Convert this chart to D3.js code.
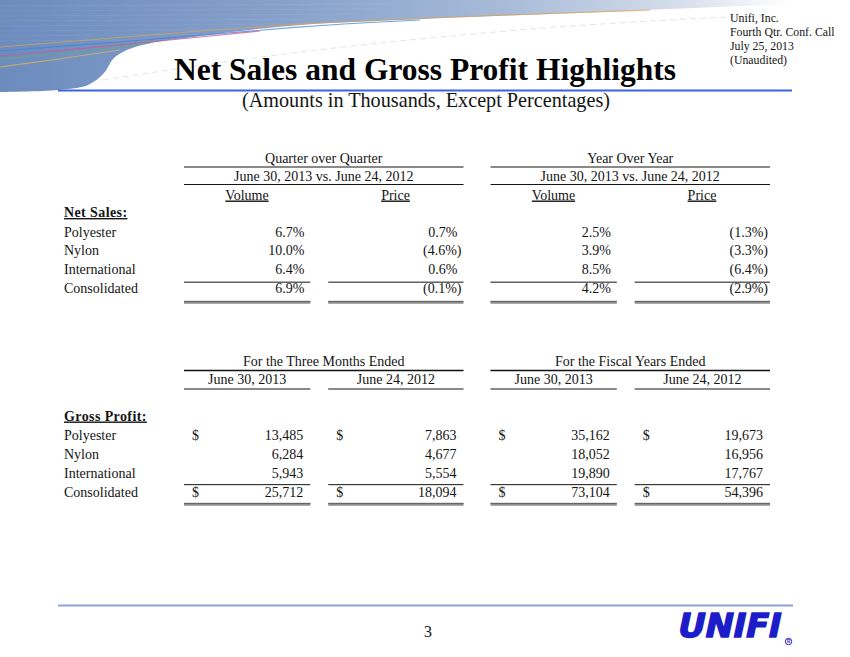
<!DOCTYPE html>
<html>
<head>
<meta charset="utf-8">
<script src="https://cdn.jsdelivr.net/npm/d3@7"></script>
<style>
  body { margin: 0; background: #fff; }
  svg text { font-family: "Liberation Serif", "Times New Roman", serif; fill: #141414; }
</style>
</head>
<body>
<div id="chart"></div>
<script>
// ---- data ----
const segments = ['Polyester', 'Nylon', 'International', 'Consolidated'];
const headerNotes = ['Unifi, Inc.', 'Fourth Qtr. Conf. Call', 'July 25, 2013', '(Unaudited)'];

const salesGroups = ['Quarter over Quarter', 'Year Over Year'];
const salesPeriod = 'June 30, 2013 vs. June 24, 2012';
const salesMeasures = ['Volume', 'Price'];
const qoqVolume = [6.7, 10.0, 6.4, 6.9];
const qoqPrice = [0.7, -4.6, 0.6, -0.1];
const yoyVolume = [2.5, 3.9, 8.5, 4.2];
const yoyPrice = [-1.3, -3.3, -6.4, -2.9];

const profitGroups = ['For the Three Months Ended', 'For the Fiscal Years Ended'];
const profitPeriods = ['June 30, 2013', 'June 24, 2012'];
const profitQ2013 = [13485, 6284, 5943, 25712];
const profitQ2012 = [7863, 4677, 5554, 18094];
const profitFY2013 = [35162, 18052, 19890, 73104];
const profitFY2012 = [19673, 16956, 17767, 54396];

const width = 850, height = 657;

const svg = d3.select('#chart').append('svg')
  .attr('width', width)
  .attr('height', height)
  .attr('viewBox', `0 0 ${width} ${height}`);

// ---- header swoosh ----
const defs = svg.append('defs');
const grad = defs.append('linearGradient').attr('id', 'band').attr('x1', 0).attr('x2', 1).attr('y1', 0).attr('y2', 0);
[[0, '#6c8cbe'], [0.35, '#86a0ca'], [0.65, '#a9bcd9'], [0.85, '#d3dcea'], [1, '#ffffff']]
  .forEach(([o, c]) => grad.append('stop').attr('offset', o).attr('stop-color', c));

const curve = d3.line().curve(d3.curveCatmullRom.alpha(0.5));
const edge = [[790, 4], [600, 12], [400, 20], [300, 25], [200, 36], [135, 47], [114, 58], [104, 73], [88, 85], [58, 90], [0, 92]];
svg.append('path')
  .attr('d', 'M0,0 L790,0 ' + curve(edge).replace(/^M/, 'L') + ' Z')
  .attr('fill', 'url(#band)');

// faint texture lines
d3.range(6, 44, 5).forEach(y => {
  svg.append('line').attr('x1', 0).attr('x2', 420 - y * 4).attr('y1', y).attr('y2', y - 2)
    .attr('stroke', '#fff').attr('stroke-opacity', 0.08).attr('stroke-width', 0.8);
});

const swooshLines = [
  { c: '#d7a15a', p: [[0, 47], [150, 35], [300, 23], [500, 15], [650, 10]] },
  { c: '#3f86d8', p: [[0, 51], [150, 40], [300, 26], [420, 20]] },
  { c: '#d0578a', p: [[0, 56], [100, 47], [180, 39], [260, 31]] },
  { c: '#63a78b', p: [[0, 59], [90, 51], [150, 43]] },
  { c: '#d9b45a', p: [[0, 67], [60, 59], [120, 50]] }
];
swooshLines.forEach(s => {
  svg.append('path').attr('d', d3.line().curve(d3.curveBasis)(s.p))
    .attr('fill', 'none').attr('stroke', s.c).attr('stroke-width', 1.1).attr('stroke-opacity', 0.75);
});

svg.append('path')
  .attr('d', d3.line().curve(d3.curveBasis)([[103, 80], [300, 50], [560, 25], [770, 15]]))
  .attr('fill', 'none').attr('stroke', '#e2e5eb').attr('stroke-width', 1).attr('stroke-dasharray', '6,4');

// ---- titles ----
svg.append('text').attr('x', 425).attr('y', 80).attr('text-anchor', 'middle')
  .style('font-size', '31.5px').style('font-weight', 'bold').style('fill', '#000')
  .text('Net Sales and Gross Profit Highlights');

svg.append('line').attr('x1', 58).attr('x2', 792).attr('y1', 90.5).attr('y2', 90.5)
  .attr('stroke', '#3a63e0').attr('stroke-width', 2.2);

svg.append('text').attr('x', 426).attr('y', 107).attr('text-anchor', 'middle')
  .style('font-size', '20.2px')
  .text('(Amounts in Thousands, Except Percentages)');

svg.append('g').selectAll('text').data(headerNotes).join('text')
  .attr('x', 730).attr('y', (d, i) => 21.5 + i * 14.2)
  .style('font-size', '11.8px')
  .text(d => d);

// ---- column scales ----
const groupX = d3.scaleBand().domain([0, 1]).range([184, 770]).paddingInner(0.088);
// the left column of each pair is a little narrower than the right one
const split = d3.scaleLinear().domain([0, 1]).range([0, groupX.bandwidth()]);
const colSpans = [[0, 0.452], [0.516, 1]];
const cols = [0, 1, 2, 3].map(k => {
  const g = Math.floor(k / 2), c = k % 2;
  return { x0: groupX(g) + split(colSpans[c][0]), x1: groupX(g) + split(colSpans[c][1]), c };
});

const ink = '#141414';
const fmtPct = v => v < 0 ? `(${d3.format('.1f')(-v)}%)` : `${d3.format('.1f')(v)}%`;
const fmtNum = d3.format(',');

function hline(g, x1, x2, y, w, c) {
  g.append('line').attr('x1', x1).attr('x2', x2).attr('y1', y).attr('y2', y)
    .attr('stroke', c || ink).attr('stroke-width', w || 1);
}
function doubleLine(g, x1, x2, y) {
  hline(g, x1, x2, y + 0.8, 3, '#8e8e8e');
  hline(g, x1, x2, y, 1, '#666');
}
function rowLabels(g, y, title) {
  g.append('text').attr('x', 64).attr('y', y.range()[0] - 19.5)
    .style('font-size', '14px').style('font-weight', 'bold').style('letter-spacing', '0.4px')
    .style('text-decoration', 'underline')
    .text(title);
  g.selectAll('.row-label').data(segments).join('text')
    .attr('class', 'row-label')
    .attr('x', 64).attr('y', d => y(d))
    .style('font-size', '14px')
    .text(d => d);
}

// ---- Net Sales table ----
const sales = svg.append('g');
const salesY = d3.scalePoint().domain(segments).range([236.5, 293]);

salesGroups.forEach((name, g) => {
  const cx = groupX(g) + groupX.bandwidth() / 2;
  sales.append('text').attr('x', cx).attr('y', 162.5).attr('text-anchor', 'middle').style('font-size', '14px').text(name);
  hline(sales, groupX(g), groupX(g) + groupX.bandwidth(), 167, 1.1);
  sales.append('text').attr('x', cx).attr('y', 180.5).attr('text-anchor', 'middle').style('font-size', '14px').text(salesPeriod);
  hline(sales, groupX(g), groupX(g) + groupX.bandwidth(), 184.5, 1.1);
});

const salesCols = [qoqVolume, qoqPrice, yoyVolume, yoyPrice];
salesCols.forEach((vals, k) => {
  const col = cols[k];
  const cx = col.c === 1 ? col.x1 - 68 : col.x0 + 63;
  sales.append('text').attr('x', cx).attr('y', 199.5).attr('text-anchor', 'middle')
    .style('font-size', '14px').style('text-decoration', 'underline')
    .text(salesMeasures[col.c]);

  sales.append('g').selectAll('text').data(vals).join('text')
    .attr('x', d => col.x1 - (d < 0 ? 2 : 6))
    .attr('y', (d, i) => salesY(segments[i]))
    .attr('text-anchor', 'end')
    .style('font-size', '14px')
    .text(fmtPct);

  hline(sales, col.x0, col.x1, salesY('International') + 8, 1);
  doubleLine(sales, col.x0, col.x1, salesY('Consolidated') + 8.5);
});
rowLabels(sales, salesY, 'Net Sales:');

// ---- Gross Profit table ----
const profit = svg.append('g');
const profitY = d3.scalePoint().domain(segments).range([440, 496.5]);

profitGroups.forEach((name, g) => {
  const cx = groupX(g) + groupX.bandwidth() / 2;
  profit.append('text').attr('x', cx).attr('y', 365.5).attr('text-anchor', 'middle').style('font-size', '14px').text(name);
  hline(profit, groupX(g), groupX(g) + groupX.bandwidth(), 370.5, 1.6, '#111');
});

const profitCols = [profitQ2013, profitQ2012, profitFY2013, profitFY2012];
profitCols.forEach((vals, k) => {
  const col = cols[k];
  profit.append('text').attr('x', (col.x0 + col.x1) / 2).attr('y', 383.5).attr('text-anchor', 'middle')
    .style('font-size', '14px').text(profitPeriods[col.c]);
  hline(profit, col.x0, col.x1, 389, 1.1);

  profit.append('g').selectAll('text').data(vals).join('text')
    .attr('x', col.x1 - 7)
    .attr('y', (d, i) => profitY(segments[i]))
    .attr('text-anchor', 'end')
    .style('font-size', '14px')
    .text(fmtNum);

  profit.append('g').selectAll('text').data(['Polyester', 'Consolidated']).join('text')
    .attr('x', col.x0 + 8)
    .attr('y', d => profitY(d))
    .style('font-size', '14px')
    .text('$');

  hline(profit, col.x0, col.x1, profitY('International') + 7, 1);
  doubleLine(profit, col.x0, col.x1, profitY('Consolidated') + 7);
});
rowLabels(profit, profitY, 'Gross Profit:');

// ---- footer ----
svg.append('line').attr('x1', 58).attr('x2', 793).attr('y1', 605.5).attr('y2', 605.5)
  .attr('stroke', '#8ea2d4').attr('stroke-width', 2);

svg.append('text').attr('x', 428).attr('y', 637).attr('text-anchor', 'middle')
  .style('font-size', '16px').text('3');

svg.append('text')
  .attr('x', 0).attr('y', 0)
  .attr('transform', 'translate(676,636.5) skewX(-12)')
  .attr('textLength', 103).attr('lengthAdjust', 'spacingAndGlyphs')
  .style('font-family', '"DejaVu Sans", Arial, sans-serif')
  .style('font-weight', 'bold').style('font-size', '33px').style('fill', '#1c1cc8')
  .style('stroke', '#1c1cc8').style('stroke-width', '1.4px').style('stroke-linejoin', 'round')
  .text('UNIFI');
svg.append('circle').attr('cx', 788.5).attr('cy', 641.5).attr('r', 3.2)
  .attr('fill', 'none').attr('stroke', '#1c1cc8').attr('stroke-width', 1);
svg.append('text').attr('x', 788.5).attr('y', 643.3).attr('text-anchor', 'middle')
  .style('font-family', 'Arial, sans-serif').style('font-size', '4.5px').style('font-weight', 'bold').style('fill', '#1c1cc8')
  .text('R');
</script>
</body>
</html>
